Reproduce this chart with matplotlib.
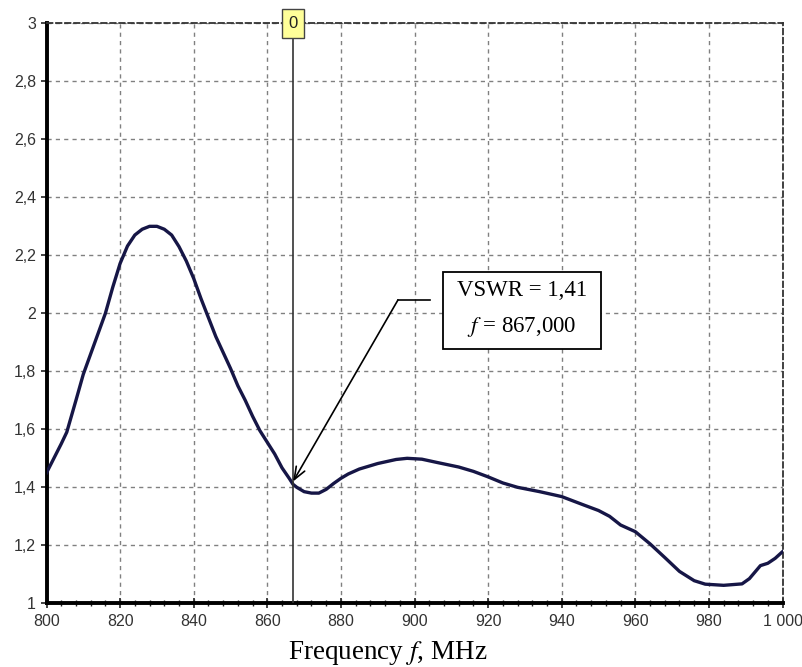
import matplotlib
matplotlib.use("Agg")
from matplotlib import pyplot as plt
from matplotlib.patches import Rectangle
from matplotlib.ticker import MultipleLocator

# values
freq = [800, 802, 804, 805.5, 808, 810, 812, 814, 816, 818, 820, 822, 824, 826,
        828, 830, 832, 834, 836, 838, 840, 842, 844, 846, 848, 850, 852, 854,
        856, 858, 860, 862, 864, 866, 867, 868, 870, 872, 874, 876, 878, 880,
        882, 885, 890, 895, 898, 902, 906, 912, 916, 920, 924, 928, 934, 940, 946,
        950, 953, 956, 960, 964, 968, 972, 976, 979, 984, 989, 991, 994, 996,
        998, 1000]
vswr = [1.45, 1.50, 1.55, 1.59, 1.70, 1.79, 1.86, 1.93, 2.00, 2.09, 2.172, 2.232,
        2.27, 2.29, 2.30, 2.30, 2.29, 2.27, 2.23, 2.18, 2.12, 2.05, 1.985, 1.92,
        1.865, 1.81, 1.75, 1.70, 1.645, 1.595, 1.555, 1.515, 1.467, 1.43, 1.41,
        1.40, 1.385, 1.38, 1.38, 1.393, 1.413, 1.431, 1.446, 1.463, 1.482, 1.496, 1.50,
        1.497, 1.486, 1.47, 1.455, 1.436, 1.415, 1.40, 1.385, 1.368, 1.339, 1.32,
        1.30, 1.27, 1.247, 1.205, 1.158, 1.11, 1.078, 1.066, 1.062, 1.067, 1.085,
        1.13, 1.138, 1.155, 1.178]

x_ticks = [800, 820, 840, 860, 880, 900, 920, 940, 960, 980, 1000]
x_labels = ["800", "820", "840", "860", "880", "900", "920", "940", "960", "980", "1 000"]
y_ticks = [1, 1.2, 1.4, 1.6, 1.8, 2, 2.2, 2.4, 2.6, 2.8, 3]
y_labels = ["1", "1,2", "1,4", "1,6", "1,8", "2", "2,2", "2,4", "2,6", "2,8", "3"]

marker_f = 867
marker_vswr = 1.41

plt.rcParams["mathtext.fontset"] = "stix"

fig = plt.figure(figsize=(8.02, 6.67), dpi=100)
ax = fig.add_axes([0.058, 0.0955, 0.9177, 0.8695])

ax.plot(freq, vswr, color="#161646", linewidth=2.4, zorder=3)

ax.set_xlim(800, 1000)
ax.set_ylim(1, 3)
ax.set_xticks(x_ticks)
ax.set_xticklabels(x_labels)
ax.set_yticks(y_ticks)
ax.set_yticklabels(y_labels)
ax.xaxis.set_minor_locator(MultipleLocator(4))
ax.tick_params(axis="both", which="major", labelsize=11.5, labelcolor="#333333",
               length=4, width=1.2, color="#222222")
ax.tick_params(axis="x", which="minor", direction="inout", length=4, width=1, color="#222222")
ax.tick_params(axis="x", which="major", direction="inout", length=7, pad=4)
for lab in ax.get_xticklabels() + ax.get_yticklabels():
    lab.set_family("Liberation Sans")

ax.grid(True, color="#808080", linewidth=1.0, linestyle=(0, (3, 3)))

for side in ["left", "bottom"]:
    ax.spines[side].set_linewidth(2.8)
    ax.spines[side].set_color("black")
for side in ["top", "right"]:
    ax.spines[side].set_linewidth(1.3)
    ax.spines[side].set_color("#333333")
    ax.spines[side].set_linestyle((0, (3, 2)))

# marker line
ax.axvline(marker_f, color="#333333", linewidth=1.2, zorder=4)
ax.text(marker_f, 3.0, "0", ha="center", va="center", fontsize=12,
        family="Liberation Sans", color="#222222", zorder=6, clip_on=False,
        bbox=dict(boxstyle="square,pad=0.4", facecolor="#ffff99", edgecolor="#444444", linewidth=1))

# annotation callout
ax.plot([895.5, 904.2], [2.046, 2.046], color="black", linewidth=1.2, zorder=5)
ax.annotate("", xy=(marker_f, 1.42), xytext=(895.5, 2.046),
            arrowprops=dict(arrowstyle="->,head_length=0.9,head_width=0.35",
                            color="black", linewidth=1.2, shrinkA=0, shrinkB=0),
            zorder=5)
ax.add_patch(Rectangle((907.7, 1.877), 43.0, 0.265, facecolor="white",
                       edgecolor="black", linewidth=1.3, zorder=5))
ax.text(929.2, 2.078, "VSWR = 1,41", ha="center", va="center", fontsize=16.5,
        family="Liberation Serif", zorder=6)
ax.text(929.2, 1.952, "$f$ = 867,000", ha="center", va="center", fontsize=16.5,
        family="Liberation Serif", zorder=6)

fig.text(0.484, 0.021, "Frequency $f$, MHz", ha="center", va="center", fontsize=19.5,
         family="Liberation Serif")

fig.savefig("out.png", dpi=100)
